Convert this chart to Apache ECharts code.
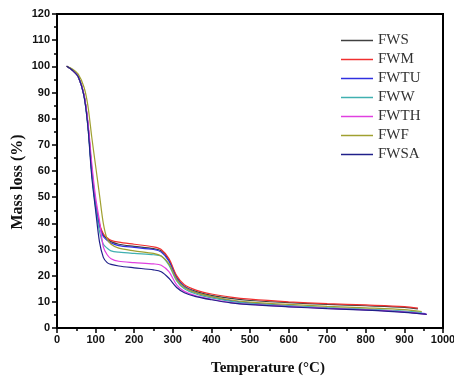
<!DOCTYPE html>
<html>
<head>
<meta charset="utf-8">
<script src="https://cdn.jsdelivr.net/npm/echarts@6/dist/echarts.min.js"></script>
<style>
	html, body { margin: 0; padding: 0; background: #fff; }
	#chart { width: 454px; height: 377px; }
</style>
</head>
<body>
<div id="chart"></div>
<script>
// temperatures (°C) shared by all curves; last point replaced by each curve's end
const temps = [25, 40, 55, 70, 80, 90, 100, 110, 120, 130, 140, 160, 200, 250, 270, 290, 310, 330, 360, 400, 450, 500, 600, 700, 800, 900, 950];
const names = ['FWS', 'FWM', 'FWTU', 'FWW', 'FWTH', 'FWF', 'FWSA'];
const endTemps = [935, 935, 955, 945, 958, 945, 958];

const fws  = [100, 98.5, 96, 89, 78, 60, 47, 39.5, 35.5, 34, 33, 32, 31.2, 30.3, 29.5, 26, 19.5, 16, 14, 12.5, 11.3, 10.5, 9.7, 9.0, 8.5, 7.9, 7.3];
const fwm  = [100, 98.5, 96, 89, 78, 61, 48, 40, 36, 34.5, 33.5, 32.8, 32, 31, 30, 26.5, 20, 16.5, 14.5, 13, 11.8, 11, 10, 9.3, 8.8, 8.2, 7.6];
const fwtu = [100, 98.5, 96, 89, 78, 60, 47, 39, 35, 33.5, 32.5, 31.5, 30.8, 30, 29, 25.5, 19, 15.8, 13.5, 12, 10.5, 9.6, 8.5, 7.6, 7.0, 6.2, 5.5];
const fww  = [100, 98.5, 96, 88.5, 77, 59, 46, 37, 32, 30.5, 29.5, 29, 28.5, 28, 27.5, 24, 18, 15, 13, 11.5, 10.2, 9.4, 8.5, 7.8, 7.2, 6.5, 6.0];
const fwth = [100, 98.5, 96, 89, 79, 63, 50, 41, 31, 28, 26.5, 25.5, 25, 24.5, 24, 21.5, 16.5, 14, 12.3, 11, 9.7, 9.0, 8.2, 7.5, 6.9, 6.1, 5.2];
const fwf  = [100, 99, 97, 92, 85, 73, 62, 51, 40, 34, 32, 30.5, 29.5, 28.5, 27.5, 24.5, 18.5, 15.5, 13.5, 12, 10.7, 9.9, 9.0, 8.3, 7.7, 7.0, 6.3];
const fwsa = [100, 98.5, 96, 88.5, 77, 58, 45, 33, 27, 25, 24.3, 23.7, 23, 22.2, 21.5, 19, 15.5, 13.5, 12, 10.8, 9.6, 8.9, 8.1, 7.4, 6.8, 6.0, 5.2];
const values = [fws, fwm, fwtu, fww, fwth, fwf, fwsa];
const colors = ['#404040', '#f03030', '#3030e0', '#40b0b0', '#e040e0', '#a0a030', '#20208a'];

const xTicks = { min: 0, max: 1000, interval: 100 };
const yTicks = { min: 0, max: 120, interval: 10 };

const chart = echarts.init(document.getElementById('chart'), null, { renderer: 'canvas' });
const tickFont = { color: '#111', fontFamily: 'Liberation Sans', fontWeight: 'bold', fontSize: 11 };
const axisCommon = {
	axisLine: { show: true, lineStyle: { color: '#000', width: 2 } },
	axisTick: { show: true, inside: false, length: 5, lineStyle: { color: '#000', width: 1.5 } },
	minorTick: { show: true, splitNumber: 2, length: 3, lineStyle: { color: '#000', width: 1.5 } },
	splitLine: { show: false },
};

chart.setOption({
	backgroundColor: '#fff',
	animation: false,
	grid: {
		left: 57, right: 11, top: 14, bottom: 49,
		outerBoundsMode: 'none', containLabel: false,
		show: true, borderColor: '#000', borderWidth: 2,
	},
	xAxis: {
		type: 'value',
		...xTicks,
		...axisCommon,
		axisLabel: { ...tickFont, margin: 6, formatter: v => String(v) },
	},
	yAxis: {
		type: 'value',
		...yTicks,
		...axisCommon,
		axisLabel: { ...tickFont, margin: 7 },
	},
	legend: {
		orient: 'vertical',
		left: 341,
		top: 33,
		padding: 0,
		itemWidth: 32,
		itemHeight: 14,
		itemGap: 4,
		icon: 'path://M0,0 L32,0 L32,1.5 L0,1.5 Z',
		textStyle: { fontFamily: 'Liberation Serif', fontSize: 15, color: '#333' },
		data: names,
	},
	graphic: [
		{
			type: 'text',
			x: 18, y: 182, rotation: Math.PI / 2,
			style: { text: 'Mass loss (%)', font: 'bold 16px "Liberation Serif"', fill: '#111', align: 'center', verticalAlign: 'middle' },
		},
		{
			type: 'text',
			x: 268, y: 368,
			style: { text: 'Temperature (°C)', font: 'bold 15px "Liberation Serif"', fill: '#111', align: 'center', verticalAlign: 'middle' },
		},
	],
	series: names.map((name, i) => ({
		name,
		type: 'line',
		symbol: 'none',
		smooth: 0.3,
		color: colors[i],
		lineStyle: { width: 1.2, color: colors[i] },
		data: values[i].map((v, k) => [k === temps.length - 1 ? endTemps[i] : temps[k], v]),
	})),
});
</script>
</body>
</html>
